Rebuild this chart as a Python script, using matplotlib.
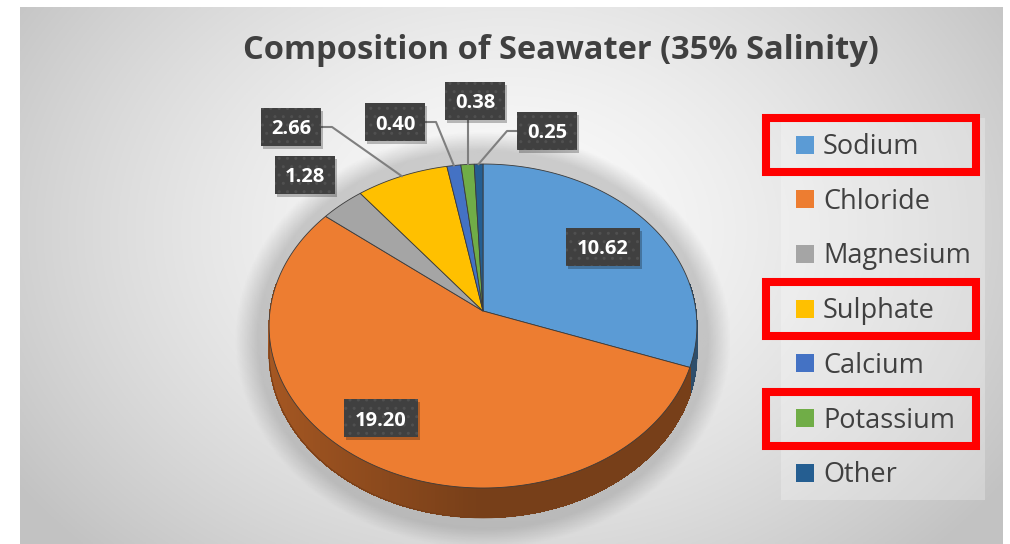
import numpy as np
import matplotlib.pyplot as plt
from matplotlib.patches import Polygon, Rectangle
from matplotlib.collections import PolyCollection

labels = ['Sodium', 'Chloride', 'Magnesium', 'Sulphate', 'Calcium', 'Potassium', 'Other']
values = [10.62, 19.20, 1.28, 2.66, 0.40, 0.38, 0.25]
colors = ['#5B9BD5', '#ED7D31', '#A5A5A5', '#FFC000', '#4472C4', '#70AD47', '#255E91']
highlight = ['Sodium', 'Sulphate', 'Potassium']

# where each value box sits (pixel centres)
label_pos = [(603, 247), (381, 418), (305, 175), (291, 127), (395, 122), (475, 101), (547, 131)]
leader = [False, False, False, True, True, True, True]

plt.rcParams['font.family'] = ['Open Sans', 'DejaVu Sans']

fig = plt.figure(figsize=(10.10, 5.44), dpi=100)
ax = fig.add_axes([0, 0, 1, 1])
ax.set_xlim(0, 1010)
ax.set_ylim(544, 0)
ax.axis('off')

# grey radial background of the chart area
x0, x1, y0, y1 = 20, 1003, 7, 544
gx, gy = np.meshgrid(np.linspace(x0, x1, 500), np.linspace(y0, y1, 280))
r = np.sqrt(((gx - 510) / 500) ** 2 + ((gy - 230) / 380) ** 2)
bg = 0.985 - 0.17 * np.minimum(r, 1.2) ** 1.5
ax.imshow(np.dstack([bg, bg, bg]), extent=(x0, x1, y1, y0), aspect='auto', zorder=0)

# tilted pie with a bit of perspective
cx, cy = 483, 311
R, cR, p = 213, 160.6, 0.0926
depth = 27


def proj(theta, dz=0.0):
    t = np.radians(theta)
    u, v = np.sin(t), np.cos(t)
    s = 1 / (1 + p * v)
    return cx + R * u * s, cy - cR * v * s + dz * s


# soft shadow under the pie
sx, sy = np.meshgrid(np.linspace(230, 740, 300), np.linspace(100, 544, 260))
rr = np.sqrt(((sx - 483) / 226) ** 2 + ((sy - 340) / 190) ** 2)
sa = 0.3 * np.clip((1.1 - rr) / 0.1, 0, 1)
shadow = np.zeros(sx.shape + (4,))
shadow[..., :3] = 0.4
shadow[..., 3] = sa
ax.imshow(shadow, extent=(230, 740, 544, 100), aspect='auto', zorder=1)

total = sum(values)
angles = np.concatenate([[0], np.cumsum(values) / total * 360])

# side wall (only the front half shows)
for i, c in enumerate(colors):
    a0, a1 = max(angles[i], 80), min(angles[i + 1], 280)
    if a1 <= a0:
        continue
    rgb = np.array(plt.matplotlib.colors.to_rgb(c))
    ts = np.linspace(a0, a1, max(int(a1 - a0), 1) + 1)
    quads, shades = [], []
    for ta, tb in zip(ts[:-1], ts[1:]):
        f = 0.5 + 0.2 * max(0.0, -np.sin(np.radians((ta + tb) / 2)))
        quads.append([proj(ta), proj(tb), proj(tb, depth), proj(ta, depth)])
        shades.append(rgb * f)
    ax.add_collection(PolyCollection(quads, facecolors=shades, edgecolors=shades,
                                     linewidths=0.3, antialiased=False, zorder=2))
    bottom = [proj(t, depth) for t in ts]
    ax.plot(*zip(*bottom), color=rgb * 0.5, linewidth=0.8, zorder=2)

# top face
for i, c in enumerate(colors):
    ts = np.linspace(angles[i], angles[i + 1], max(int(angles[i + 1] - angles[i]) * 2, 2) + 1)
    pts = [(cx, cy)] + [proj(t) for t in ts]
    ax.add_patch(Polygon(pts, closed=True, facecolor=c, edgecolor='#3a3a3a',
                         linewidth=0.6, zorder=3))

# value boxes with leader lines
for i, v in enumerate(values):
    bx, by = label_pos[i]
    txt = f'{v:.2f}'
    w, h = 14 * len(txt) + 4, 38
    if leader[i]:
        mx, my = proj((angles[i] + angles[i + 1]) / 2)
        if bx - w / 2 <= mx <= bx + w / 2:
            path = [(mx, by + h / 2), (mx, my)]
        elif mx < bx:
            path = [(bx - w / 2, by), (bx - w / 2 - 10, by), (mx, my)]
        else:
            path = [(bx + w / 2, by), (bx + w / 2 + 11, by), (mx, my)]
        px, py = zip(*path)
        ax.plot(px, py, color='#7f7f7f', linewidth=1.5, zorder=4)
    ax.add_patch(Rectangle((bx - w / 2 + 2, by - h / 2 + 3), w, h, facecolor='black',
                           alpha=0.25, linewidth=0, zorder=5))
    ax.add_patch(Rectangle((bx - w / 2, by - h / 2), w, h, facecolor='#404040',
                           linewidth=0, zorder=5))
    ax.add_patch(Rectangle((bx - w / 2, by - h / 2), w, h, fill=False, hatch='..',
                           edgecolor='#505050', linewidth=0, zorder=5))
    ax.text(bx, by + 7.5, txt, color='white', fontsize=14.5, fontweight='bold',
            ha='center', va='baseline', zorder=6)

# title
ax.text(561, 59, 'Composition of Seawater (35% Salinity)', color='#404040',
        fontsize=23.5, fontweight='bold', ha='center', va='baseline', zorder=6)

# legend
ax.add_patch(Rectangle((781, 118), 204, 382, facecolor='white', alpha=0.25,
                       linewidth=0, zorder=1))
for i, name in enumerate(labels):
    ly = 144.5 + 54.7 * i
    ax.add_patch(Rectangle((796, ly - 9), 18, 18, facecolor=colors[i], linewidth=0, zorder=5))
    ax.text(823, ly + 9.5, name, color='#404040', fontsize=19.5, ha='left',
            va='baseline', zorder=6)
    if name in highlight:
        ax.add_patch(Rectangle((766, ly - 26.5), 210, 54, fill=False, edgecolor='#ff0000',
                               linewidth=5.8, zorder=6))

plt.savefig('out.png', dpi=100)
